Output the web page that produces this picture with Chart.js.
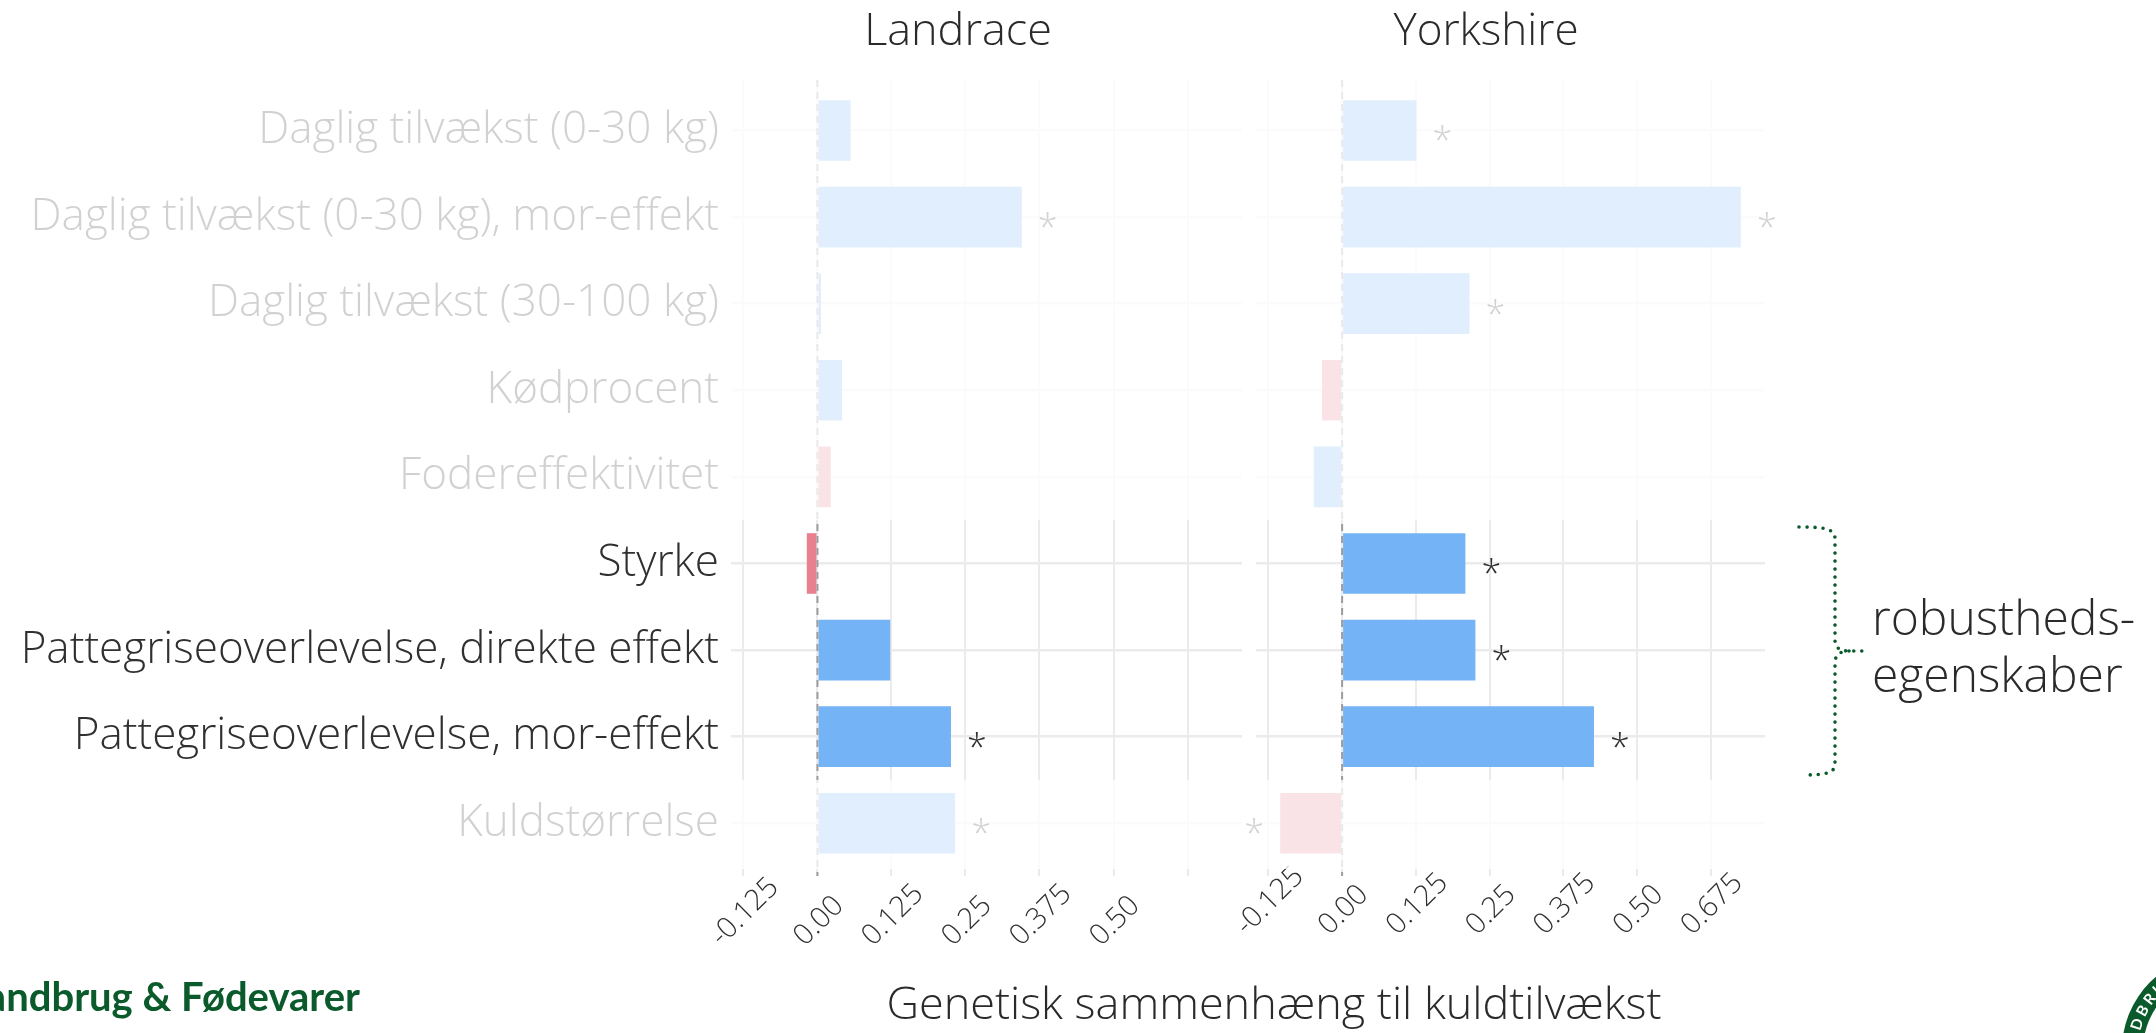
<!DOCTYPE html>
<html lang="da">
<head>
<meta charset="utf-8">
<title>Genetisk sammenhæng til kuldtilvækst</title>
<script src="https://cdn.jsdelivr.net/npm/chart.js@4.4.1/dist/chart.umd.min.js"></script>
<style>
  html, body { margin: 0; padding: 0; background: #ffffff; }
  body { width: 2156px; height: 1033px; position: relative; overflow: hidden; }
  canvas { position: absolute; top: 0; }
  #landrace { left: 0; }
  #yorkshire { left: 1200px; }
  svg#annotations { position: absolute; left: 0; top: 0; pointer-events: none; }
</style>
</head>
<body>
<canvas id="landrace" width="1242" height="1000"></canvas>
<canvas id="yorkshire" width="600" height="1000"></canvas>

<svg id="annotations" width="2156" height="1033" xmlns="http://www.w3.org/2000/svg">
  <g font-family="Open Sans" font-weight="300" fill="#2a2a2a">
    <text x="958" y="45" font-size="45" text-anchor="middle">Landrace</text>
    <text x="1486" y="45" font-size="44" text-anchor="middle">Yorkshire</text>
    <text x="1274" y="1019" font-size="45" text-anchor="middle">Genetisk sammenhæng til kuldtilvækst</text>
    <text x="1872" y="635" font-size="48">robustheds-</text>
    <text x="1872" y="692" font-size="48">egenskaber</text>
  </g>
  <!-- dotted brace grouping the robustness traits -->
  <path d="M1799,527 C1826,527 1835,529 1835,539 L1835,640 C1835,648 1840,651 1849,651 L1867,651
           M1849,651 C1840,651 1835,655 1835,663 L1835,764 C1835,773 1826,775 1803,775"
        fill="none" stroke="#0b5a2b" stroke-width="3.6" stroke-linecap="round" stroke-dasharray="0 8"/>
  <!-- organisation mark, bottom corners -->
  <text x="360" y="1011" font-family="Lato" font-weight="700" font-size="40" fill="#0b5a2b" text-anchor="end">Landbrug &amp; Fødevarer</text>
  <g>
    <circle cx="2218" cy="1050" r="96" fill="#0b5a2b"/>
    <circle cx="2218" cy="1050" r="75" fill="#ffffff"/>
    <path id="ring" d="M2148.7,1090 A80,80 0 1 1 2287.3,1090" fill="none"/>
    <text font-family="Lato" font-weight="700" font-size="15" fill="#ffffff" letter-spacing="3">
      <textPath href="#ring" startOffset="22">LANDBRUG &amp; FØDEVARER</textPath>
    </text>
  </g>
</svg>

<script>
// Traits, top to bottom
const categories = [
  'Daglig tilvækst (0-30 kg)',
  'Daglig tilvækst (0-30 kg), mor-effekt',
  'Daglig tilvækst (30-100 kg)',
  'Kødprocent',
  'Fodereffektivitet',
  'Styrke',
  'Pattegriseoverlevelse, direkte effekt',
  'Pattegriseoverlevelse, mor-effekt',
  'Kuldstørrelse'
];

// Robustness traits are shown at full strength, the rest are toned down
const highlighted = [false, false, false, false, false, true, true, true, false];

// Genetic correlation with litter growth
const landraceValues = [0.056, 0.345, 0.006, 0.0415, 0.0225, -0.018, 0.123, 0.2255, 0.2325];
const landraceFavourable = [true, true, true, true, false, false, true, true, true];
const landraceSignificant = [false, true, false, false, false, false, false, true, true];

const yorkshireValues = [0.126, 0.676, 0.216, -0.034, -0.048, 0.209, 0.226, 0.427, -0.105];
const yorkshireFavourable = [true, true, true, false, true, true, true, true, false];
const yorkshireSignificant = [true, true, true, false, false, true, true, true, true];

// Value axis
const tickValues = [-0.125, 0, 0.125, 0.25, 0.375, 0.5, 0.625];
const landraceTickLabels = ['-0.125', '0.00', '0.125', '0.25', '0.375', '0.50', ''];
const yorkshireTickLabels = ['-0.125', '0.00', '0.125', '0.25', '0.375', '0.50', '0.675'];

const BLUE = '#74b3f6';
const RED = '#e8818f';
const INK = '#303030';
const GRID = '#ebebeb';
const FADE = 'rgba(255,255,255,0.78)';

function panelExtras(cfg) {
  return {
    id: 'panelExtras',
    afterDatasetsDraw(chart) {
      const { ctx, chartArea, scales: { x, y } } = chart;

      // dashed reference line at zero
      ctx.save();
      ctx.strokeStyle = '#9c9c9c';
      ctx.lineWidth = 2;
      ctx.setLineDash([7, 5]);
      const x0 = x.getPixelForValue(0);
      ctx.beginPath();
      ctx.moveTo(x0, chartArea.top);
      ctx.lineTo(x0, chartArea.bottom + 7);
      ctx.stroke();
      ctx.restore();

      // significance stars beyond the bar end
      ctx.save();
      ctx.font = '300 36px "Open Sans"';
      ctx.fillStyle = INK;
      ctx.textAlign = 'center';
      ctx.textBaseline = 'alphabetic';
      const sm = ctx.measureText('*');
      const starShift = (sm.actualBoundingBoxAscent - sm.actualBoundingBoxDescent) / 2;
      cfg.values.forEach((v, i) => {
        if (!cfg.significant[i]) return;
        const dir = v < 0 ? -1 : 1;
        ctx.fillText('*', x.getPixelForValue(v) + dir * 26, y.getPixelForValue(i) + 3 + starShift);
      });
      ctx.restore();

      // rotated tick labels, centred on their tick, bottoms aligned
      ctx.save();
      ctx.font = '300 29px "Open Sans"';
      ctx.fillStyle = INK;
      ctx.textAlign = 'center';
      ctx.textBaseline = 'alphabetic';
      const capH = ctx.measureText('0').actualBoundingBoxAscent;
      x.ticks.forEach((t) => {
        const label = cfg.tickLabels[tickValues.indexOf(t.value)];
        if (!label) return;
        const w = ctx.measureText(label).width;
        const px = x.getPixelForValue(t.value);
        const cy = cfg.labelBottom - 0.3536 * (w + capH);
        ctx.save();
        ctx.translate(px, cy);
        ctx.rotate(-Math.PI / 4);
        ctx.fillText(label, 0, capH / 2);
        ctx.restore();
      });
      ctx.restore();
    },
    afterDraw(chart) {
      // tone down the rows that are not robustness traits
      const { ctx, chartArea, scales: { y } } = chart;
      const n = categories.length;
      const left = cfg.fadeLeft(chart);
      const right = chart.width;
      ctx.save();
      ctx.fillStyle = FADE;
      let i = 0;
      while (i < n) {
        if (highlighted[i]) { i++; continue; }
        let j = i;
        while (j + 1 < n && !highlighted[j + 1]) j++;
        const top = i === 0 ? chartArea.top : (y.getPixelForValue(i - 1) + y.getPixelForValue(i)) / 2;
        const bottom = j === n - 1 ? chartArea.bottom : (y.getPixelForValue(j) + y.getPixelForValue(j + 1)) / 2;
        ctx.fillRect(left, top, right - left, bottom - top);
        i = j + 1;
      }
      ctx.restore();
    }
  };
}

function makePanel(canvasId, cfg) {
  return new Chart(document.getElementById(canvasId), {
    type: 'bar',
    data: {
      datasets: [{
        data: cfg.values.map((v, i) => ({ x: v, y: i })),
        backgroundColor: cfg.favourable.map((f) => (f ? BLUE : RED)),
        borderWidth: 0,
        barPercentage: 0.7,
        categoryPercentage: 1
      }]
    },
    options: {
      indexAxis: 'y',
      responsive: false,
      animation: false,
      devicePixelRatio: 1,
      layout: { padding: { top: 80, right: cfg.padRight, bottom: 0, left: 0 } },
      plugins: { legend: { display: false }, tooltip: { enabled: false }, title: { display: false } },
      scales: {
        x: {
          type: 'linear',
          min: -0.146,
          max: 0.717,
          afterBuildTicks: (s) => { s.ticks = tickValues.map((v) => ({ value: v })); },
          afterFit: (s) => { s.height = cfg.axisHeight; },
          ticks: { display: false },
          grid: { color: GRID, lineWidth: 2, drawTicks: true, tickLength: 7 },
          border: { display: false }
        },
        y: {
          type: 'linear',
          reverse: true,
          min: -0.583,
          max: 8.528,
          offset: false,
          afterBuildTicks: (s) => { s.ticks = categories.map((_, i) => ({ value: i })); },
          afterFit: (s) => { s.width = cfg.labelWidth; },
          ticks: {
            display: cfg.showLabels,
            autoSkip: false,
            padding: 12,
            color: INK,
            font: { family: 'Open Sans', size: 44, weight: 300 },
            callback: (v) => categories[v]
          },
          grid: { color: GRID, lineWidth: 2.5, drawTicks: false, offset: false },
          border: { display: false }
        }
      }
    },
    plugins: [panelExtras(cfg)]
  });
}

Promise.all([
  document.fonts.load('300 44px "Open Sans"'),
  document.fonts.load('300 29px "Open Sans"'),
  document.fonts.load('700 40px "Lato"')
]).catch(() => {}).then(() => {
  makePanel('landrace', {
    values: landraceValues,
    favourable: landraceFavourable,
    significant: landraceSignificant,
    tickLabels: landraceTickLabels,
    showLabels: true,
    labelWidth: 731,
    axisHeight: 131,
    padRight: 0,
    labelBottom: 947,
    fadeLeft: () => 0
  });
  makePanel('yorkshire', {
    values: yorkshireValues,
    favourable: yorkshireFavourable,
    significant: yorkshireSignificant,
    tickLabels: yorkshireTickLabels,
    showLabels: false,
    labelWidth: 56,
    axisHeight: 131,
    padRight: 35,
    labelBottom: 936,
    fadeLeft: (chart) => chart.chartArea.left - 14
  });
});
</script>
</body>
</html>
